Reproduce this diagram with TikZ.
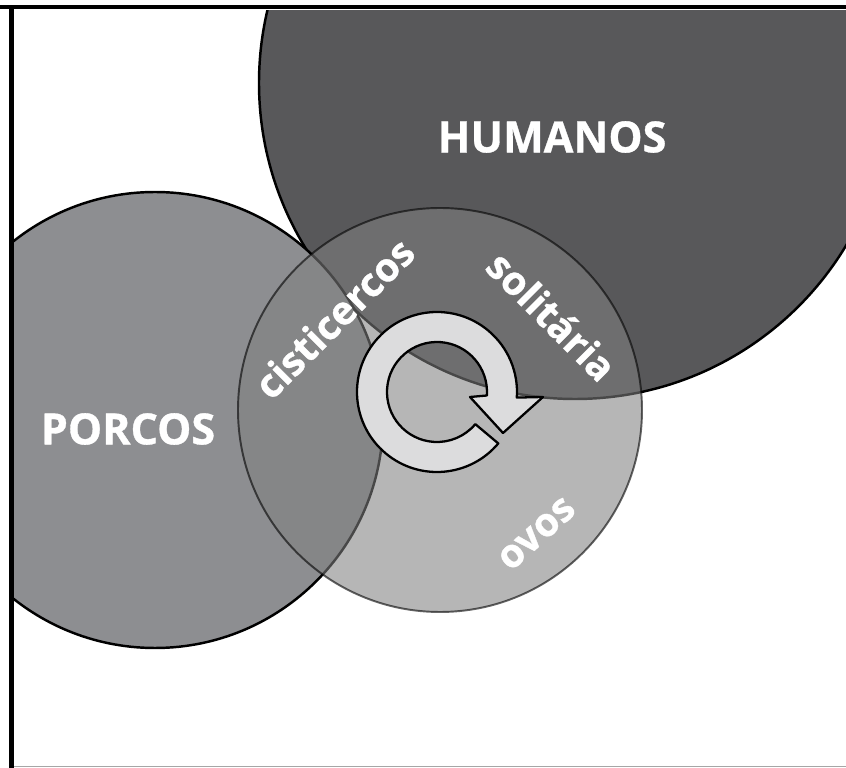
\documentclass[tikz,border=0pt]{standalone}
\usepackage{fontspec}
\setmainfont{Open Sans}[BoldFeatures={FakeBold=0.8}]
\usetikzlibrary{calc}
\definecolor{humano}{HTML}{58585A}
\definecolor{porco}{HTML}{8D8E91}
\definecolor{meio}{HTML}{808080}
\definecolor{seta}{HTML}{DCDCDD}
\tikzset{
  rotulo/.style={text=white,inner sep=0pt,font=\bfseries\fontsize{24.5}{26}\selectfont},
  rotulomeio/.style={text=white,inner sep=0pt,font=\bfseries\fontsize{22.5}{24}\selectfont},
  contorno/.style={draw=black,line width=1.4pt},
}
\begin{document}
\begin{tikzpicture}[x=0.02cm,y=0.02cm]
    \fill[white] (0,0) rectangle (846,768); %fundo
    \useasboundingbox (0,0) rectangle (846,768);
    \coordinate (H) at (575,685); %centro humanos
    \coordinate (P) at (155,348); %centro porcos
    \coordinate (M) at (440,358); %centro do ciclo
    \coordinate (ciclo) at (437,376); %centro da seta
    \begin{scope}
        \clip (14,2) rectangle (846,757);
        \fill[humano] (H) circle[radius=316];
        \draw[contorno] (H) circle[radius=316]; %humanos
        \fill[porco] (P) circle[radius=228];
        \draw[contorno] (P) circle[radius=228]; %porcos
        \fill[meio,fill opacity=0.57] (M) circle[radius=202];
        \draw[black,draw opacity=0.6,line width=1.1pt] (M) circle[radius=202]; %ciclo
    \end{scope}
    \filldraw[fill=seta,draw=black,line width=1.3pt,line join=round]
        ([shift={(-40:80)}]ciclo) arc[start angle=-40,end angle=-364,radius=80]
        -- ([shift={(106,-5)}]ciclo) -- ([shift={(66,-41)}]ciclo) -- ([shift={(33,-5)}]ciclo)
        -- ([shift={(-4:50)}]ciclo) arc[start angle=-4,end angle=320,radius=50] -- cycle; %seta
    \node[rotulo] (humanos) at (552,631) {HUMANOS};
    \node[rotulo] (porcos) at (128,339) {PORCOS};
    \node[rotulomeio,rotate=45] (cisticercos) at (334,450) {cisticercos};
    \node[rotulomeio,rotate=-45] (solitaria) at (552,452) {solitária};
    \node[rotulomeio,rotate=42] (ovos) at (537,234) {ovos};
    \draw[black,line width=2.3pt] (0,761) -- (846,761); %borda de cima
    \draw[black,line width=2.8pt] (11.5,0) -- (11.5,763); %borda da esquerda
    \draw[gray!70,line width=0.8pt] (14,1.5) -- (846,1.5); %borda de baixo
\end{tikzpicture}
\end{document}
